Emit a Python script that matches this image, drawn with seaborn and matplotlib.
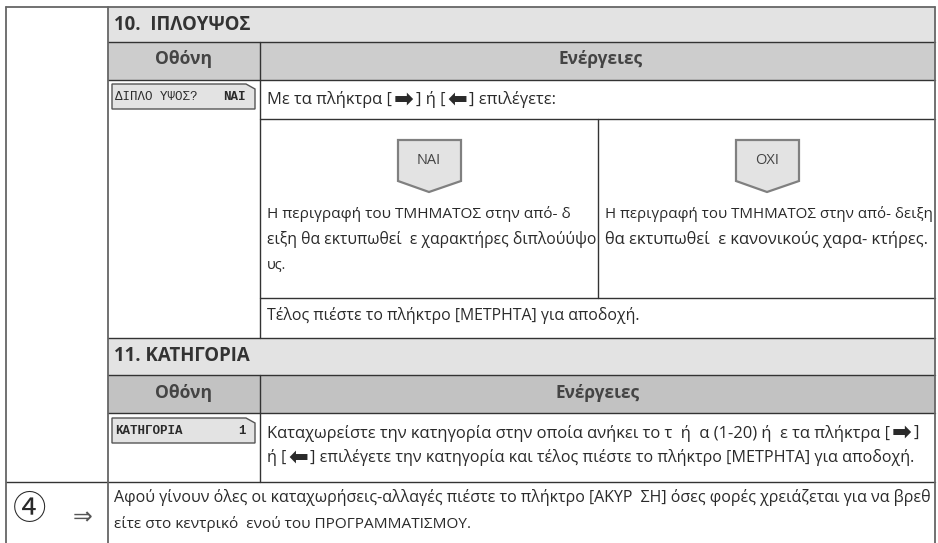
import re

import seaborn as sns
import matplotlib.pyplot as plt
import pandas as pd
from matplotlib.patches import Polygon, Rectangle

# text of the page
title_10 = "10.  ΙΠΛΟΥΨΟΣ"
title_11 = "11. ΚΑΤΗΓΟΡΙΑ"
col_screen = "Οθόνη"
col_actions = "Ενέργειες"
screen_10 = ["ΔΙΠΛΟ ΥΨΟΣ?", "ΝΑΙ"]
screen_11 = ["ΚΑΤΗΓΟΡΙΑ", "1"]
tags = ["ΝΑΙ", "ΟΧΙ"]
intro = "Με τα πλήκτρα [➡] ή [⬅] επιλέγετε:"
nai_lines = ["Η περιγραφή του ΤΜΗΜΑΤΟΣ στην από- δ",
             "ειξη θα εκτυπωθεί  ε χαρακτήρες διπλούύψο",
             "υς."]
oxi_lines = ["Η περιγραφή του ΤΜΗΜΑΤΟΣ στην από- δειξη",
             "θα εκτυπωθεί  ε κανονικούς χαρα- κτήρες."]
end_10 = "Τέλος πιέστε το πλήκτρο [ΜΕΤΡΗΤΑ] για αποδοχή."
body_11 = ["Καταχωρείστε την κατηγορία στην οποία ανήκει το τ  ή  α (1-20) ή  ε τα πλήκτρα [➡]",
           "ή [⬅] επιλέγετε την κατηγορία και τέλος πιέστε το πλήκτρο [ΜΕΤΡΗΤΑ] για αποδοχή."]
note = ["Αφού γίνουν όλες οι καταχωρήσεις-αλλαγές πιέστε το πλήκτρο [ΑΚΥΡ  ΣΗ] όσες φορές χρειάζεται για να βρεθ",
        "είτε στο κεντρικό  ενού του ΠΡΟΓΡΑΜΜΑΤΙΣΜΟΥ."]

FONT = ["Open Sans", "DejaVu Sans"]
MONO = ["Liberation Mono", "DejaVu Sans Mono"]
DARK = "#333333"
MID = "#666666"
INK = "#2a2a2a"

sns.set_theme(style="white")
plt.rcParams["font.family"] = FONT

fig = plt.figure(figsize=(9.38, 5.43), dpi=100)
ax = fig.add_axes([0, 0, 1, 1])

# shaded bands
for y0, y1, c in [(7, 42, "#e3e3e3"), (42, 80, "#cdcdcd"),
                  (338, 375, "#e3e3e3"), (375, 413, "#c2c2c2")]:
    ax.add_patch(Rectangle((108, y0), 827, y1 - y0, fc=c, ec="none", zorder=0))

# table rules, one row per end point
thin_rules = [
    (108, 42, 935, 42), (108, 80, 935, 80), (260, 119, 935, 119),
    (260, 298, 935, 298), (108, 338, 935, 338), (108, 375, 935, 375),
    (108, 413, 935, 413), (6, 482, 935, 482),
    (260, 42, 260, 338), (598, 119, 598, 298), (260, 375, 260, 482),
]
gray_rules = [(6, 7, 935, 7), (6, 7, 6, 543), (108, 7, 108, 543), (935, 7, 935, 543)]


def draw_rules(rules, color, lw):
    rows = []
    for i, (x0, y0, x1, y1) in enumerate(rules):
        rows += [{"rule": i, "x": x0, "y": y0}, {"rule": i, "x": x1, "y": y1}]
    sns.lineplot(data=pd.DataFrame(rows), x="x", y="y", units="rule", estimator=None,
                 sort=False, color=color, lw=lw, ax=ax, legend=False)


draw_rules(thin_rules, DARK, 1.0)
draw_rules(gray_rules, MID, 1.3)
ax.set_xlim(0, 938)
ax.set_ylim(543, 0)
ax.set_axis_off()


def put(s, x, y, size=11, **kw):
    kw.setdefault("color", INK)
    kw.setdefault("va", "center")
    return ax.text(x, y, s, fontsize=size, **kw)


def put_line(s, x, y, end, size=11):
    # a line of body text: arrows drawn larger, size nudged so the line stops
    # about where it does on the page
    parts = [p for p in re.split("([➡⬅])", s) if p]
    texts = []
    for p in parts:
        if p in "➡⬅":
            texts.append(put(p, x, y, size=17, family=["DejaVu Sans"], weight="bold"))
        else:
            texts.append(put(p, x, y, size=size))
    renderer = fig.canvas.get_renderer()
    gap = 2
    arrow_w = sum(t.get_window_extent(renderer).width for t, p in zip(texts, parts) if p in "➡⬅")
    plain_w = sum(t.get_window_extent(renderer).width for t, p in zip(texts, parts) if p not in "➡⬅")
    room = end - x - arrow_w - gap * (len(parts) - 1)
    scale = min(max(room / plain_w, 0.95), 1.08)
    cur = x
    for t, p in zip(texts, parts):
        if p not in "➡⬅":
            t.set_fontsize(size * scale)
        t.set_x(cur)
        cur += t.get_window_extent(renderer).width + gap


def screen_box(y0, labels, weight):
    pts = [(112, y0), (246, y0), (255, y0 + 5), (255, y0 + 25), (112, y0 + 25)]
    ax.add_patch(Polygon(pts, fc="#e3e3e3", ec="#555555", lw=1))
    put(labels[0], 115, y0 + 13, size=9, family=MONO, weight=weight)
    put(labels[1], 246, y0 + 13, size=9, family=MONO, weight="bold", ha="right")


def tag(x0, label):
    pts = [(x0, 140), (x0 + 63, 140), (x0 + 63, 181), (x0 + 31, 192), (x0, 181)]
    ax.add_patch(Polygon(pts, fc="#e3e3e3", ec="#808080", lw=1.6))
    put(label, x0 + 31, 160, size=10.5, ha="center", color="#444444")


put(title_10, 114, 25, size=13.4, weight="bold", color="#333333")
put(col_screen, 184, 59, size=12.6, weight="bold", ha="center", color="#444444")
put(col_actions, 601, 59, size=12.4, weight="bold", ha="center", color="#444444")
screen_box(84, screen_10, "normal")
put_line(intro, 267, 100, 556)
tag(398, tags[0])
tag(736, tags[1])
for s, y, e in zip(nai_lines, [214, 240, 265], [571, 596, 285]):
    put_line(s, 267, y, e)
for s, y, e in zip(oxi_lines, [214, 240], [933, 931]):
    put_line(s, 605, y, e)
put_line(end_10, 267, 316, 641)

put(title_11, 114, 356, size=13.4, weight="bold", color="#333333")
put(col_screen, 184, 393, size=12.6, weight="bold", ha="center", color="#444444")
put(col_actions, 598, 393, size=12.4, weight="bold", ha="center", color="#444444")
screen_box(418, screen_11, "bold")
for s, y, e in zip(body_11, [433, 458], [932, 916]):
    put_line(s, 267, y, e)

put("④", 30, 510, size=24, ha="center", family=["Noto Sans CJK SC", "DejaVu Sans"])
put("⇒", 83, 517, size=17, ha="center", family=["DejaVu Sans"], color="#555555")
for s, y, e in zip(note, [498, 524], [933, 471]):
    put_line(s, 114, y, e)

fig.savefig("out.png", dpi=100)
plt.close(fig)
